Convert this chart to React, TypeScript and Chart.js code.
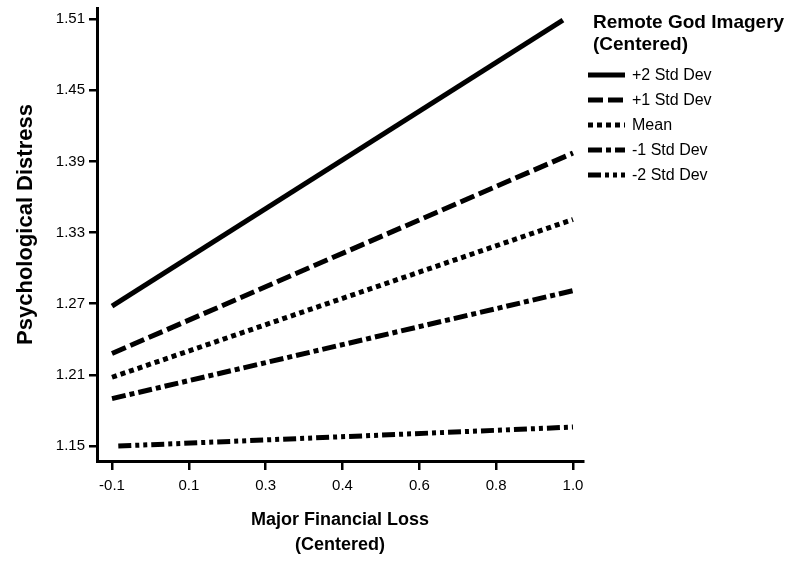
import { useEffect, useRef } from 'react';
import { Chart, registerables } from 'chart.js';

Chart.register(...registerables);

// ---- data ----
const seriesLabels = ['+2 Std Dev', '+1 Std Dev', 'Mean', '-1 Std Dev', '-2 Std Dev'];
const plus2X = [-0.1, 0.976];
const plus2Y = [1.268, 1.509];
const plus1X = [-0.1, 1.0];
const plus1Y = [1.228, 1.397];
const meanX = [-0.1, 1.0];
const meanY = [1.208, 1.341];
const minus1X = [-0.1, 1.0];
const minus1Y = [1.19, 1.281];
const minus2X = [-0.085, 1.0];
const minus2Y = [1.15, 1.166];

const yTickValues = [1.15, 1.21, 1.27, 1.33, 1.39, 1.45, 1.51];
const xTickValues = [-0.1, 0.0833, 0.2667, 0.45, 0.6333, 0.8167, 1.0];
const xTickLabels = ['-0.1', '0.1', '0.3', '0.4', '0.6', '0.8', '1.0'];

const legendTitle = ['Remote God Imagery', '(Centered)'];
const xTitle = ['Major Financial Loss', '(Centered)'];
const yTitle = 'Psychological Distress';

const FONT = '"Liberation Sans", Arial, Helvetica, sans-serif';

const dashes: number[][] = [[], [15, 5], [5, 4], [14, 4, 5, 4], [13, 4, 4, 4, 4, 4]];

const toPts = (xs: number[], ys: number[]) => xs.map((x, i) => ({ x, y: ys[i] }));

const textPlugin = {
  id: 'sideLegendAndYTitle',
  afterDraw(chart: any) {
    const ctx = chart.ctx as CanvasRenderingContext2D;
    const area = chart.chartArea;
    const left = area.right + 5;
    ctx.save();
    ctx.fillStyle = '#000';
    ctx.strokeStyle = '#000';
    ctx.textAlign = 'left';
    ctx.textBaseline = 'alphabetic';
    ctx.font = `bold 19px ${FONT}`;
    ctx.fillText(legendTitle[0], left + 5, 28);
    ctx.fillText(legendTitle[1], left + 5, 50);
    ctx.font = `16px ${FONT}`;
    ctx.textBaseline = 'middle';
    chart.data.datasets.forEach((ds: any, i: number) => {
      const y = 75 + i * 25;
      ctx.beginPath();
      ctx.setLineDash(ds.borderDash || []);
      ctx.lineWidth = 5;
      ctx.lineCap = 'butt';
      ctx.moveTo(left, y);
      ctx.lineTo(left + 37, y);
      ctx.stroke();
      ctx.setLineDash([]);
      ctx.fillText(ds.label, left + 44, y + 1);
    });
    ctx.restore();

    // y-axis title
    ctx.save();
    ctx.translate(26, (area.top + area.bottom) / 2 - 10);
    ctx.rotate(-Math.PI / 2);
    ctx.fillStyle = '#000';
    ctx.textAlign = 'center';
    ctx.textBaseline = 'middle';
    ctx.font = `bold 22px ${FONT}`;
    ctx.fillText(yTitle, 0, 0);
    ctx.restore();
  },
};

export default function App() {
  const ref = useRef<HTMLCanvasElement | null>(null);

  useEffect(() => {
    if (!ref.current) return;
    const seriesData = [
      toPts(plus2X, plus2Y),
      toPts(plus1X, plus1Y),
      toPts(meanX, meanY),
      toPts(minus1X, minus1Y),
      toPts(minus2X, minus2Y),
    ];
    const chart = new Chart(ref.current, {
      type: 'line',
      data: {
        datasets: seriesData.map((d, i) => ({
          label: seriesLabels[i],
          data: d,
          borderColor: '#000',
          backgroundColor: '#000',
          borderWidth: 5,
          borderDash: dashes[i],
          borderCapStyle: 'butt',
          pointRadius: 0,
          fill: false,
          tension: 0,
          clip: false,
        })),
      },
      options: {
        responsive: false,
        animation: false,
        devicePixelRatio: 1,
        layout: { padding: { left: 0, top: 8, right: 210, bottom: 0 } },
        plugins: {
          legend: { display: false },
          tooltip: { enabled: false },
        },
        font: { family: FONT },
        scales: {
          x: {
            type: 'linear',
            min: -0.1358,
            max: 1.0239,
            afterFit: (s: any) => {
              s.height = 105;
              s.paddingLeft = 0;
              s.paddingRight = 0;
            },
            afterBuildTicks: (s: any) => {
              s.ticks = xTickValues.map((v) => ({ value: v }));
            },
            ticks: {
              color: '#000',
              font: { family: FONT, size: 15 },
              padding: 7,
              maxRotation: 0,
              autoSkip: false,
              callback: (_v: any, i: number) => xTickLabels[i],
            },
            grid: {
              drawOnChartArea: false,
              drawTicks: true,
              tickLength: 9,
              color: '#000',
              lineWidth: 2.5,
            },
            border: { display: true, color: '#000', width: 3 },
            title: {
              display: true,
              text: xTitle,
              color: '#000',
              font: { family: FONT, size: 18, weight: 'bold', lineHeight: 1.39 },
              padding: { top: 0, bottom: 8 },
            },
          },
          y: {
            type: 'linear',
            min: 1.1374,
            max: 1.5193,
            afterFit: (s: any) => {
              s.width = 97;
              s.paddingTop = 0;
              s.paddingBottom = 0;
            },
            afterBuildTicks: (s: any) => {
              s.ticks = yTickValues.map((v) => ({ value: v }));
            },
            ticks: {
              color: '#000',
              font: { family: FONT, size: 15 },
              padding: 4,
              autoSkip: false,
              callback: (v: any) => Number(v).toFixed(2),
            },
            grid: {
              drawOnChartArea: false,
              drawTicks: true,
              tickLength: 8,
              color: '#000',
              lineWidth: 2.5,
            },
            border: { display: true, color: '#000', width: 3 },
            title: { display: false },
          },
        },
      } as any,
      plugins: [textPlugin],
    });
    return () => chart.destroy();
  }, []);

  return (
    <div style={{ position: 'fixed', left: 0, top: 0, width: 793, height: 566, background: '#fff' }}>
      <canvas ref={ref} width={793} height={566} />
    </div>
  );
}
